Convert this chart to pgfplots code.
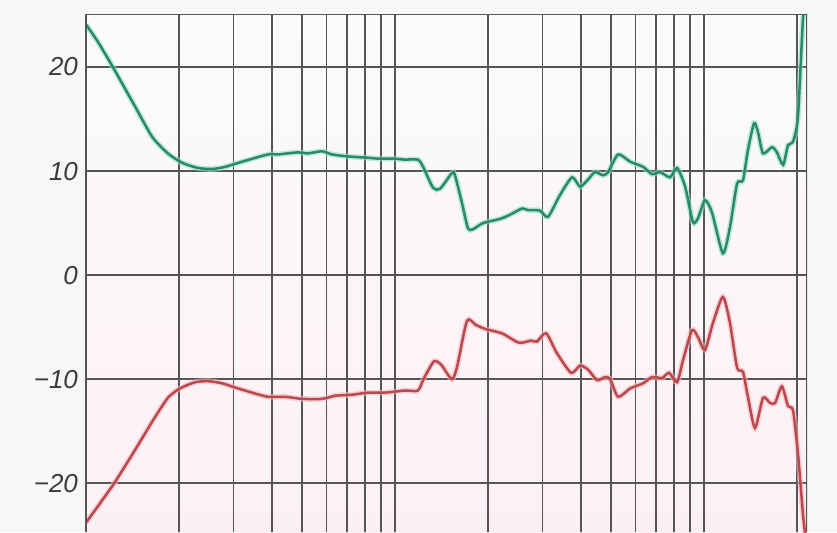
\documentclass[border=0pt]{standalone}
\usepackage{pgfplots}
\pgfplotsset{compat=1.18}
\usepackage{pgfplotstable}
\usepackage{fontspec}
\setmainfont{Liberation Sans}
\definecolor{grn}{RGB}{42,138,104}
\definecolor{grnglow}{RGB}{150,225,195}
\definecolor{rd}{RGB}{186,72,76}
\definecolor{rdglow}{RGB}{245,185,192}
\definecolor{gridc}{RGB}{85,85,85}
\definecolor{labc}{RGB}{60,60,60}
\definecolor{pagebg}{RGB}{247,247,247}
\definecolor{plottop}{RGB}{251,251,251}
\definecolor{plotbot}{RGB}{252,240,245}

% x = log10(frequency / Hz)
\pgfplotstableread{
x y
2.000 24.1
2.039 22.4
2.087 20.0
2.159 16.2
2.214 13.3
2.265 11.7
2.311 10.8
2.362 10.3
2.408 10.2
2.450 10.4
2.505 10.9
2.589 11.6
2.621 11.6
2.686 11.8
2.718 11.7
2.764 11.9
2.796 11.6
2.848 11.4
2.903 11.3
2.945 11.2
2.994 11.2
3.032 11.1
3.074 11.1
3.091 10.4
3.123 8.4
3.146 8.3
3.184 9.8
3.194 9.6
3.217 6.9
3.236 4.5
3.252 4.4
3.285 5.0
3.340 5.4
3.372 5.8
3.411 6.4
3.430 6.25
3.469 6.2
3.495 5.6
3.534 7.7
3.573 9.4
3.599 8.5
3.625 9.2
3.647 9.9
3.673 9.6
3.690 9.9
3.722 11.6
3.761 10.9
3.803 10.4
3.832 9.7
3.858 9.9
3.890 9.4
3.913 10.3
3.939 8.5
3.964 5.1
3.981 5.5
4.003 7.2
4.026 6.0
4.061 2.1
4.084 4.6
4.107 8.8
4.126 9.1
4.142 12.0
4.162 14.6
4.175 13.7
4.191 11.7
4.220 12.3
4.236 11.8
4.256 10.6
4.272 12.5
4.288 12.8
4.304 15.2
4.320 24.5
4.327 25.5
}\greendata

\pgfplotstableread{
x y
2.000 -23.8
2.087 -20.2
2.159 -16.8
2.214 -14.1
2.265 -11.8
2.304 -10.9
2.353 -10.3
2.395 -10.2
2.440 -10.4
2.482 -10.8
2.537 -11.3
2.589 -11.7
2.644 -11.7
2.699 -11.9
2.764 -11.9
2.806 -11.6
2.861 -11.5
2.913 -11.3
2.968 -11.3
3.032 -11.1
3.074 -11.1
3.094 -9.9
3.126 -8.3
3.149 -8.6
3.184 -10.0
3.201 -8.8
3.233 -4.4
3.262 -4.8
3.294 -5.2
3.346 -5.6
3.401 -6.5
3.440 -6.3
3.459 -6.4
3.489 -5.6
3.524 -7.5
3.570 -9.4
3.599 -8.7
3.625 -9.1
3.654 -10.1
3.680 -9.8
3.696 -10.0
3.722 -11.7
3.761 -10.9
3.803 -10.4
3.832 -9.8
3.864 -9.9
3.887 -9.4
3.913 -10.3
3.932 -8.2
3.961 -5.3
3.981 -6.0
4.003 -7.2
4.029 -4.6
4.061 -2.1
4.084 -4.6
4.107 -8.9
4.126 -9.3
4.142 -11.7
4.165 -14.7
4.191 -11.8
4.214 -12.3
4.230 -12.3
4.252 -10.7
4.272 -12.6
4.288 -13.0
4.304 -17.1
4.320 -22.9
4.327 -24.8
}\reddata

\begin{document}
\begin{tikzpicture}
\fill[pagebg] (-43pt,0pt) rectangle (375.5pt,266pt);
\begin{axis}[
  scale only axis,
  width=360.5pt, height=259pt,
  xmin=2, xmax=4.3333,
  ymin=-24.7, ymax=25.1,
  axis line style={draw=none},
  axis background/.style={top color=plottop, bottom color=plotbot},
  xtick={2,2.30103,2.47712,2.60206,2.69897,2.77815,2.84510,2.90309,2.95424,3,3.30103,3.47712,3.60206,3.69897,3.77815,3.84510,3.90309,3.95424,4,4.30103},
  xticklabels={},
  ytick={-20,-10,0,10,20},
  yticklabels={−20,−10,0,10,20},
  major tick length=0pt,
  grid=major,
  grid style={gridc, line width=0.85pt},
  yticklabel style={font=\fontsize{13}{15}\selectfont\itshape, text=labc, xshift=-0.5pt},
  /pgf/number format/assume math mode=true,
  clip=true,
]
\addplot[grnglow, line width=2.8pt, opacity=0.6, smooth, tension=0.4] table[x=x,y=y] {\greendata};
\addplot[grn, line width=1.25pt, smooth, tension=0.4] table[x=x,y=y] {\greendata};
\addplot[rdglow, line width=2.8pt, opacity=0.6, smooth, tension=0.4] table[x=x,y=y] {\reddata};
\addplot[rd, line width=1.25pt, smooth, tension=0.4] table[x=x,y=y] {\reddata};
\draw[gridc, line width=0.9pt] (rel axis cs:0,0) -- (rel axis cs:0,1) -- (rel axis cs:1,1) -- (rel axis cs:1,0);
\node[anchor=east, font=\fontsize{12}{14}\selectfont\itshape, text=labc, inner sep=0pt] at ([xshift=-1.5pt,yshift=-7pt]rel axis cs:0,1) {dB};
\end{axis}
\pgfresetboundingbox
\useasboundingbox (-43pt,0pt) rectangle (375.5pt,266pt);
\end{tikzpicture}
\end{document}
